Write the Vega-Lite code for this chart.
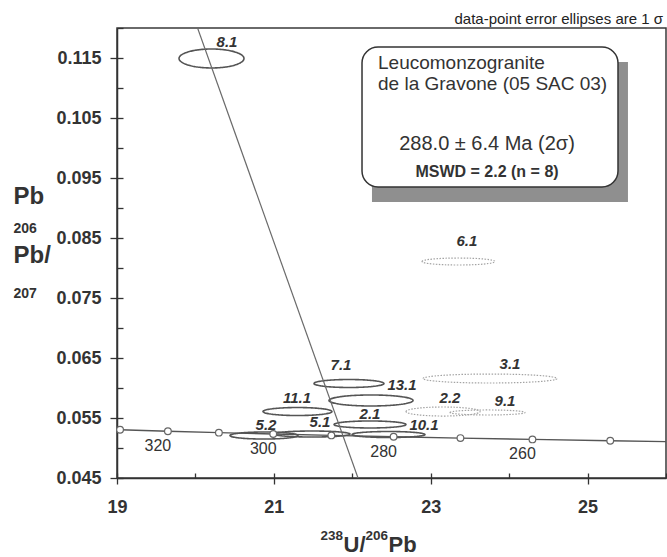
{
  "$schema": "https://vega.github.io/schema/vega-lite/v6.json",
  "width": 549,
  "height": 450,
  "autosize": {"type": "none"},
  "padding": {"left": 117, "top": 28, "right": 1, "bottom": 79},
  "background": "white",
  "title": {"text": "data-point error ellipses are 1 σ", "anchor": "end", "frame": "group", "fontSize": 15, "fontWeight": "normal", "color": "#222", "baseline": "alphabetic", "offset": 3, "dy": 15, "dx": -3, "font": "Liberation Sans"},
  "config": {
    "font": "Liberation Sans",
    "view": {"stroke": "#3a3a3a", "strokeWidth": 1.5},
    "axis": {"grid": false, "domainColor": "#333", "domainWidth": 1.5, "tickColor": "#333", "tickWidth": 1.3, "labelColor": "#333", "labelFontWeight": "bold", "labelFontSize": 18, "labelFont": "Liberation Sans", "titleFont": "Liberation Sans", "titleColor": "#333", "titleFontWeight": "bold", "labelFlush": false}
  },
  "datasets": {
    "ellipses": [
      {"id": "8.1", "x": 20.205, "y": 0.11492, "sx": 0.414, "sy": 0.00158, "status": "used", "lx": 20.403, "ly": 0.11767},
      {"id": "7.1", "x": 21.958, "y": 0.06075, "sx": 0.446, "sy": 0.00067, "status": "used", "lx": 21.856, "ly": 0.06383},
      {"id": "13.1", "x": 22.239, "y": 0.05792, "sx": 0.536, "sy": 0.00092, "status": "used", "lx": 22.634, "ly": 0.0605},
      {"id": "11.1", "x": 21.301, "y": 0.05608, "sx": 0.44, "sy": 0.00067, "status": "used", "lx": 21.295, "ly": 0.05833},
      {"id": "2.1", "x": 22.226, "y": 0.05392, "sx": 0.459, "sy": 0.00058, "status": "used", "lx": 22.226, "ly": 0.05567},
      {"id": "5.1", "x": 21.486, "y": 0.05233, "sx": 0.485, "sy": 0.0005, "status": "used", "lx": 21.588, "ly": 0.05433},
      {"id": "5.2", "x": 20.874, "y": 0.05208, "sx": 0.434, "sy": 0.00058, "status": "used", "lx": 20.9, "ly": 0.05383},
      {"id": "10.1", "x": 22.462, "y": 0.05225, "sx": 0.465, "sy": 0.0005, "status": "used", "lx": 22.914, "ly": 0.05383},
      {"id": "3.1", "x": 23.756, "y": 0.06158, "sx": 0.854, "sy": 0.00075, "status": "excluded", "lx": 24.011, "ly": 0.064},
      {"id": "2.2", "x": 23.157, "y": 0.05608, "sx": 0.472, "sy": 0.00075, "status": "excluded", "lx": 23.246, "ly": 0.05833},
      {"id": "9.1", "x": 23.724, "y": 0.05592, "sx": 0.478, "sy": 0.00042, "status": "excluded", "lx": 23.947, "ly": 0.05783},
      {"id": "6.1", "x": 23.354, "y": 0.08108, "sx": 0.465, "sy": 0.00058, "status": "excluded", "lx": 23.462, "ly": 0.0845}
    ],
    "concordia": [
      {"age": 330, "x": 19.039, "y": 0.05303},
      {"age": 320, "x": 19.649, "y": 0.05279},
      {"age": 310, "x": 20.299, "y": 0.05256},
      {"age": 300, "x": 20.992, "y": 0.05233},
      {"age": 290, "x": 21.733, "y": 0.0521},
      {"age": 280, "x": 22.527, "y": 0.05188},
      {"age": 270, "x": 23.379, "y": 0.05165},
      {"age": 260, "x": 24.297, "y": 0.05143},
      {"age": 250, "x": 25.289, "y": 0.0512},
      {"age": null, "x": 26.0, "y": 0.05107}
    ],
    "discordia": [
      {"x": 20.0, "y": 0.121},
      {"x": 22.073, "y": 0.045}
    ]
  },
  "resolve": {"axis": {"x": "independent", "y": "independent"}},
  "layer": [
    {
      "data": {"name": "ellipses"},
      "mark": {"type": "point", "filled": false, "opacity": 1},
      "encoding": {
        "x": {"field": "x", "type": "quantitative", "scale": {"domain": [19, 26], "nice": false, "zero": false},
          "axis": {"orient": "bottom", "values": [19, 21, 23, 25], "format": "d", "tickSize": 6, "labelPadding": 14, "title": "U/", "titleFontSize": 22, "titleX": 226, "titleY": 73, "titleAlign": "left", "titleBaseline": "alphabetic"}},
        "y": {"field": "y", "type": "quantitative", "scale": {"domain": [0.045, 0.12], "nice": false, "zero": false},
          "axis": {"orient": "left", "values": [0.045, 0.055, 0.065, 0.075, 0.085, 0.095, 0.105, 0.115], "format": ".3f", "tickSize": 7, "labelPadding": 9, "title": ["Pb", "Pb/"], "titleAngle": 0, "titleAlign": "left", "titleBaseline": "alphabetic", "titleX": -104, "titleY": 175, "titleFontSize": 24, "titleLineHeight": 59}},
        "size": {"field": "sx", "type": "quantitative", "scale": {"type": "pow", "exponent": 2, "domain": [0, 1], "range": [0, 24605]}, "legend": null},
        "shape": {"field": "id", "type": "nominal", "legend": null, "scale": {
          "domain": ["8.1", "7.1", "13.1", "11.1", "2.1", "5.1", "5.2", "10.1", "3.1", "2.2", "9.1", "6.1"],
          "range": [
            "M-1,0C-1,-0.161 -0.552,-0.292 0,-0.292C0.552,-0.292 1,-0.161 1,0C1,0.161 0.552,0.292 0,0.292C-0.552,0.292 -1,0.161 -1,0Z",
            "M-1,0C-1,-0.063 -0.552,-0.114 0,-0.114C0.552,-0.114 1,-0.063 1,0C1,0.063 0.552,0.114 0,0.114C-0.552,0.114 -1,0.063 -1,0Z",
            "M-1,0C-1,-0.072 -0.552,-0.131 0,-0.131C0.552,-0.131 1,-0.072 1,0C1,0.072 0.552,0.131 0,0.131C-0.552,0.131 -1,0.072 -1,0Z",
            "M-1,0C-1,-0.064 -0.552,-0.116 0,-0.116C0.552,-0.116 1,-0.064 1,0C1,0.064 0.552,0.116 0,0.116C-0.552,0.116 -1,0.064 -1,0Z",
            "M-1,0C-1,-0.054 -0.552,-0.097 0,-0.097C0.552,-0.097 1,-0.054 1,0C1,0.054 0.552,0.097 0,0.097C-0.552,0.097 -1,0.054 -1,0Z",
            "M-1,0C-1,-0.044 -0.552,-0.079 0,-0.079C0.552,-0.079 1,-0.044 1,0C1,0.044 0.552,0.079 0,0.079C-0.552,0.079 -1,0.044 -1,0Z",
            "M-1,0C-1,-0.057 -0.552,-0.103 0,-0.103C0.552,-0.103 1,-0.057 1,0C1,0.057 0.552,0.103 0,0.103C-0.552,0.103 -1,0.057 -1,0Z",
            "M-1,0C-1,-0.045 -0.552,-0.082 0,-0.082C0.552,-0.082 1,-0.045 1,0C1,0.045 0.552,0.082 0,0.082C-0.552,0.082 -1,0.045 -1,0Z",
            "M-1,0C-1,-0.037 -0.552,-0.067 0,-0.067C0.552,-0.067 1,-0.037 1,0C1,0.037 0.552,0.067 0,0.067C-0.552,0.067 -1,0.037 -1,0Z",
            "M-1,0C-1,-0.067 -0.552,-0.122 0,-0.122C0.552,-0.122 1,-0.067 1,0C1,0.067 0.552,0.122 0,0.122C-0.552,0.122 -1,0.067 -1,0Z",
            "M-1,0C-1,-0.037 -0.552,-0.067 0,-0.067C0.552,-0.067 1,-0.037 1,0C1,0.037 0.552,0.067 0,0.067C-0.552,0.067 -1,0.037 -1,0Z",
            "M-1,0C-1,-0.053 -0.552,-0.096 0,-0.096C0.552,-0.096 1,-0.053 1,0C1,0.053 0.552,0.096 0,0.096C-0.552,0.096 -1,0.053 -1,0Z"
          ]}},
        "color": {"field": "status", "type": "nominal", "legend": null, "scale": {"domain": ["used", "excluded"], "range": ["#555555", "#a3a3a3"]}},
        "strokeDash": {"field": "status", "type": "nominal", "legend": null, "scale": {"domain": ["used", "excluded"], "range": [[1, 0], [1.5, 1.5]]}},
        "strokeWidth": {"field": "status", "type": "nominal", "legend": null, "scale": {"domain": ["used", "excluded"], "range": [1.6, 1.2]}}
      }
    },
    {
      "data": {"name": "ellipses"},
      "mark": {"type": "text", "fontStyle": "italic", "fontWeight": "bold", "fontSize": 15, "color": "#333", "baseline": "middle", "align": "center"},
      "encoding": {
        "x": {"field": "lx", "type": "quantitative", "scale": {"domain": [19, 26], "nice": false, "zero": false},
          "axis": {"orient": "bottom", "values": [19, 20, 21, 22, 23, 24, 25, 26], "tickSize": -5, "labels": false, "domain": false, "title": "Pb", "titleFontSize": 22, "titleX": 271, "titleY": 73, "titleAlign": "left", "titleBaseline": "alphabetic"}},
        "y": {"field": "ly", "type": "quantitative", "scale": {"domain": [0.045, 0.12], "nice": false, "zero": false},
          "axis": {"orient": "left", "values": [0.045, 0.05, 0.055, 0.06, 0.065, 0.07, 0.075, 0.08, 0.085, 0.09, 0.095, 0.1, 0.105, 0.11, 0.115, 0.12], "tickSize": -6, "labels": false, "domain": false, "title": ["206", "207"], "titleAngle": 0, "titleAlign": "left", "titleBaseline": "alphabetic", "titleX": -104, "titleY": 204, "titleFontSize": 14, "titleLineHeight": 65}},
        "text": {"field": "id"}
      }
    },
    {
      "data": {"name": "concordia"},
      "mark": {"type": "line", "color": "#555", "strokeWidth": 1.4},
      "encoding": {
        "x": {"field": "x", "type": "quantitative", "scale": {"domain": [19, 26], "nice": false, "zero": false},
          "axis": {"orient": "bottom", "ticks": false, "labels": false, "domain": false, "title": "238", "titleFontSize": 13.5, "titleX": 203, "titleY": 61, "titleAlign": "left", "titleBaseline": "alphabetic"}},
        "y": {"field": "y", "type": "quantitative", "scale": {"domain": [0.045, 0.12], "nice": false, "zero": false}, "axis": null}
      }
    },
    {
      "data": {"name": "concordia"},
      "transform": [{"filter": "isValid(datum.age)"}],
      "mark": {"type": "circle", "fill": "white", "stroke": "#666", "strokeWidth": 1.2, "size": 45, "opacity": 1},
      "encoding": {
        "x": {"field": "x", "type": "quantitative", "scale": {"domain": [19, 26], "nice": false, "zero": false},
          "axis": {"orient": "bottom", "ticks": false, "labels": false, "domain": false, "title": "206", "titleFontSize": 13.5, "titleX": 248, "titleY": 61, "titleAlign": "left", "titleBaseline": "alphabetic"}},
        "y": {"field": "y", "type": "quantitative", "scale": {"domain": [0.045, 0.12], "nice": false, "zero": false}, "axis": null}
      }
    },
    {
      "data": {"name": "concordia"},
      "transform": [{"filter": "isValid(datum.age) && datum.age % 20 == 0"}],
      "mark": {"type": "text", "fontSize": 16, "color": "#333", "dx": -10, "dy": 15, "baseline": "middle", "align": "center"},
      "encoding": {
        "x": {"field": "x", "type": "quantitative", "scale": {"domain": [19, 26], "nice": false, "zero": false}, "axis": null},
        "y": {"field": "y", "type": "quantitative", "scale": {"domain": [0.045, 0.12], "nice": false, "zero": false}, "axis": null},
        "text": {"field": "age", "type": "quantitative"}
      }
    },
    {
      "data": {"name": "discordia"},
      "mark": {"type": "line", "color": "#6a6a6a", "strokeWidth": 1.2, "clip": true},
      "encoding": {
        "x": {"field": "x", "type": "quantitative", "scale": {"domain": [19, 26], "nice": false, "zero": false}, "axis": null},
        "y": {"field": "y", "type": "quantitative", "scale": {"domain": [0.045, 0.12], "nice": false, "zero": false}, "axis": null}
      }
    },
    {
      "data": {"values": [{}]},
      "mark": {"type": "rect", "fill": "#8f8f8f"},
      "encoding": {
        "x": {"datum": 22.251, "type": "quantitative", "axis": null},
        "x2": {"datum": 25.515},
        "y": {"datum": 0.11433, "type": "quantitative", "axis": null},
        "y2": {"datum": 0.091}
      }
    },
    {
      "data": {"values": [{}]},
      "mark": {"type": "rect", "fill": "white", "stroke": "#333", "strokeWidth": 1.5, "cornerRadius": 16},
      "encoding": {
        "x": {"datum": 22.124, "type": "quantitative", "axis": null},
        "x2": {"datum": 25.388},
        "y": {"datum": 0.11683, "type": "quantitative", "axis": null},
        "y2": {"datum": 0.0935}
      }
    },
    {
      "data": {"values": [{}]},
      "mark": {"type": "text", "fontSize": 19, "color": "#333", "align": "left", "baseline": "alphabetic", "lineHeight": 21},
      "encoding": {
        "x": {"datum": 22.328, "type": "quantitative", "axis": null},
        "y": {"datum": 0.11312, "type": "quantitative", "axis": null},
        "text": {"value": ["Leucomonzogranite", "de la Gravone (05 SAC 03)"]}
      }
    },
    {
      "data": {"values": [{}]},
      "mark": {"type": "text", "fontSize": 20, "color": "#333", "align": "center", "baseline": "alphabetic"},
      "encoding": {
        "x": {"datum": 23.718, "type": "quantitative", "axis": null},
        "y": {"datum": 0.09967, "type": "quantitative", "axis": null},
        "text": {"value": "288.0 ± 6.4 Ma (2σ)"}
      }
    },
    {
      "data": {"values": [{}]},
      "mark": {"type": "text", "fontSize": 16, "fontWeight": "bold", "color": "#333", "align": "center", "baseline": "alphabetic"},
      "encoding": {
        "x": {"datum": 23.718, "type": "quantitative", "axis": null},
        "y": {"datum": 0.09522, "type": "quantitative", "axis": null},
        "text": {"value": "MSWD = 2.2 (n = 8)"}
      }
    }
  ]
}
